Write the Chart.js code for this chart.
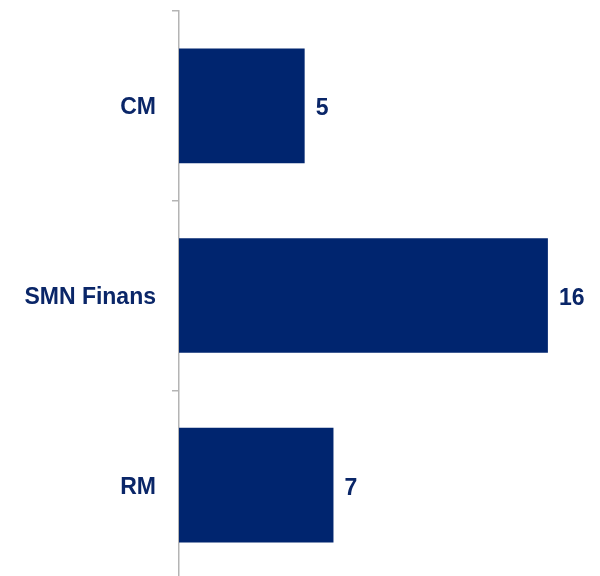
<!DOCTYPE html>
<html>
<head>
<meta charset="utf-8">
<script src="https://cdn.jsdelivr.net/npm/chart.js@4"></script>
<style>
  html, body { margin: 0; padding: 0; background: #ffffff; overflow: hidden; }
  #wrap { position: relative; width: 600px; height: 580px; }
</style>
</head>
<body>
<div id="wrap"><canvas id="c"></canvas></div>
<script>
const categories = ["CM", "SMN Finans", "RM"];
const values = [5.45, 16.0, 6.7];
const valueLabels = ["5", "16", "7"];

const BAR = "#00256f";
const TEXT = "#0a2668";

const valueLabelPlugin = {
  id: "valueLabels",
  afterDatasetsDraw(chart) {
    const ctx = chart.ctx;
    const meta = chart.getDatasetMeta(0);
    ctx.save();
    ctx.font = "bold 23px 'Liberation Sans', Arial, sans-serif";
    ctx.fillStyle = TEXT;
    ctx.textAlign = "left";
    ctx.textBaseline = "middle";
    meta.data.forEach((el, i) => {
      ctx.fillText(valueLabels[i], el.x + 11, el.y + 3);
    });
    ctx.restore();
  }
};

new Chart(document.getElementById("c"), {
  type: "bar",
  data: {
    labels: categories,
    datasets: [{
      data: values,
      backgroundColor: BAR,
      borderWidth: 0,
      barPercentage: 0.605,
      categoryPercentage: 1.0
    }]
  },
  options: {
    indexAxis: "y",
    responsive: true,
    maintainAspectRatio: false,
    animation: false,
    layout: { padding: { top: 11, right: 6, bottom: 0, left: 0 } },
    plugins: { legend: { display: false }, tooltip: { enabled: false } },
    scales: {
      x: {
        display: false,
        min: 0,
        max: 18
      },
      y: {
        afterFit(scale) {
          scale.width = 179;
          scale.paddingTop = 0;
          scale.paddingBottom = 0;
        },
        border: { display: true, color: "#b4b4b4", width: 1.5 },
        grid: {
          display: true,
          offset: true,
          drawOnChartArea: false,
          drawTicks: true,
          tickLength: 7,
          color: "#b4b4b4",
          lineWidth: 1.5
        },
        ticks: {
          color: TEXT,
          padding: 16,
          labelOffset: 2,
          font: { family: "'Liberation Sans', Arial, sans-serif", size: 23, weight: "bold" }
        }
      }
    }
  },
  plugins: [valueLabelPlugin]
});
</script>
</body>
</html>
